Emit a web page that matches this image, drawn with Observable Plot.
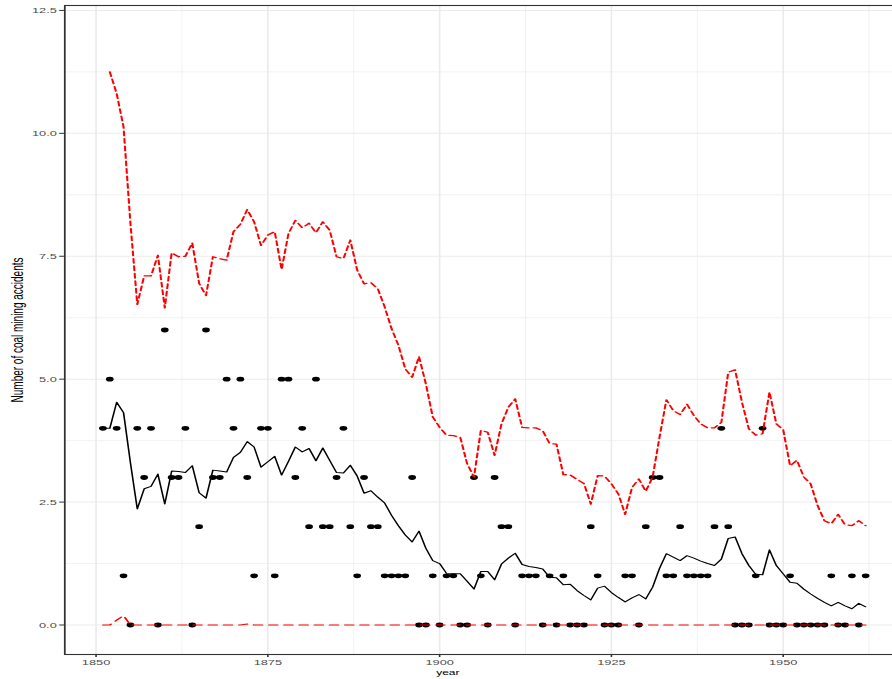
<!DOCTYPE html>
<html><head><meta charset="utf-8">
<script src="https://cdn.jsdelivr.net/npm/d3@7"></script>
<script src="https://cdn.jsdelivr.net/npm/@observablehq/plot@0.6"></script>
<style>
html,body{margin:0;padding:0;overflow:hidden;background:#fff;width:892px;height:679px}
#chart svg{transform-origin:0 0;}
</style></head><body><div id="chart"></div>
<script>
// years 1851..1962
const years = [1851,1852,1853,1854,1855,1856,1857,1858,1859,1860,1861,1862,1863,1864,1865,1866,1867,1868,1869,1870,
1871,1872,1873,1874,1875,1876,1877,1878,1879,1880,1881,1882,1883,1884,1885,1886,1887,1888,1889,1890,
1891,1892,1893,1894,1895,1896,1897,1898,1899,1900,1901,1902,1903,1904,1905,1906,1907,1908,1909,1910,
1911,1912,1913,1914,1915,1916,1917,1918,1919,1920,1921,1922,1923,1924,1925,1926,1927,1928,1929,1930,
1931,1932,1933,1934,1935,1936,1937,1938,1939,1940,1941,1942,1943,1944,1945,1946,1947,1948,1949,1950,
1951,1952,1953,1954,1955,1956,1957,1958,1959,1960,1961,1962];
const accidents = [4,5,4,1,0,4,3,4,0,6, 3,3,4,0,2,6,3,3,5,4, 5,3,1,4,4,1,5,5,3,4, 2,5,2,2,3,4,2,1,3,2,
2,1,1,1,1,3,0,0,1,0, 1,1,0,0,3,1,0,3,2,2, 0,1,1,1,0,1,0,1,0,0, 0,2,1,0,0,0,1,1,0,2,
3,3,1,1,2,1,1,1,1,2, 4,2,0,0,0,1,4,0,0,0, 1,0,0,0,0,0,1,0,0,1, 0,1];
const fitMean = [4.00,4.00,4.53,4.32,3.30,2.36,2.77,2.82,3.07,2.46, 3.13,3.12,3.10,3.24,2.69,2.58,3.15,3.13,3.11,3.41,
3.51,3.73,3.62,3.21,3.32,3.43,3.05,3.33,3.62,3.52, 3.59,3.34,3.60,3.35,3.10,3.09,3.25,3.03,2.68,2.73,
2.60,2.48,2.23,2.02,1.83,1.69,1.91,1.56,1.31,1.25, 1.05,1.04,1.04,0.89,0.73,1.09,1.09,0.92,1.24,1.36,
1.46,1.23,1.19,1.17,1.14,0.97,0.96,0.82,0.83,0.70, 0.60,0.51,0.75,0.79,0.66,0.56,0.47,0.55,0.62,0.53,
0.77,1.15,1.45,1.38,1.31,1.41,1.36,1.30,1.25,1.21, 1.34,1.76,1.79,1.45,1.21,1.03,1.02,1.53,1.21,1.04,
0.87,0.85,0.73,0.63,0.54,0.46,0.39,0.46,0.39,0.33, 0.44,0.37];
// upper band starts in 1852
const upperYears = years.slice(1);
const upper = [11.25,10.81,10.13,8.17,6.52,7.10,7.10,7.52,6.45, 7.57,7.49,7.50,7.77,6.95,6.70,7.49,7.45,7.42,8.00,
8.15,8.45,8.20,7.72,7.93,8.00,7.23,7.96,8.23,8.08, 8.17,7.98,8.20,8.03,7.49,7.45,7.83,7.22,6.94,6.96,
6.84,6.47,6.03,5.69,5.21,5.04,5.46,4.90,4.23,4.02, 3.86,3.85,3.82,3.28,3.01,3.96,3.92,3.45,4.09,4.43,
4.60,4.02,4.01,4.01,3.95,3.69,3.68,3.06,3.05,2.96, 2.88,2.46,3.04,3.03,2.87,2.67,2.25,2.80,2.97,2.72,
3.01,3.82,4.58,4.36,4.28,4.49,4.26,4.09,4.01,4.01, 4.12,5.14,5.19,4.53,3.99,3.86,3.89,4.74,4.09,3.97,
3.24,3.35,3.01,2.87,2.43,2.12,2.06,2.25,2.04,2.02, 2.12,2.02];
const lower = [0,0,0.10,0.19,0,0,0,0,0,0, 0,0,0,0,0,0,0,0,0,0, 0,0.02,0,0,0,0,0,0,0,0,
0,0,0,0,0,0,0,0,0,0, 0,0,0,0,0,0,0,0,0,0, 0,0,0,0,0,0,0,0,0,0, 0,0,0,0,0,0,0,0,0,0,
0,0,0,0,0,0,0,0,0,0, 0,0,0,0,0,0,0,0,0,0, 0,0,0,0,0,0,0,0,0,0, 0,0,0,0,0,0,0,0,0,0, 0,0];
const xTicks = [1850,1875,1900,1925,1950];
const xMinor = [1862.5,1887.5,1912.5,1937.5,1962.5];
const yTicks = [0,2.5,5,7.5,10,12.5];
const yMinor = [1.25,3.75,6.25,8.75,11.25];
const xTitle = "year";
const yTitle = "Number of coal mining accidents";

const F = 1.6; // horizontal stretch of the reference picture
const W = Math.ceil(904 / F);
const obs = years.map((y,i)=>({year:y, n:accidents[i]}));
const meanData = years.map((y,i)=>({year:y, v:fitMean[i]}));
const upData = upperYears.map((y,i)=>({year:y, v:upper[i]}));
const loData = years.map((y,i)=>({year:y, v:lower[i]}));

const chart = Plot.plot({
  width: W, height: 679,
  marginLeft: 64/F, marginRight: W - 903/F, marginTop: 5, marginBottom: 25,
  style: {fontFamily: "'Liberation Sans', Arial, sans-serif", fontSize: "8px", color: "#4d4d4d", background: "white", overflow: "visible"},
  x: {domain: [1845.45, 1967.55], label: null},
  y: {domain: [-0.6, 12.6], label: null},
  marks: [
    Plot.gridX(xMinor, {stroke: "#ebebeb", strokeOpacity: 1, strokeWidth: 0.5}),
    Plot.gridY(yMinor, {stroke: "#ebebeb", strokeOpacity: 1, strokeWidth: 0.5}),
    Plot.gridX(xTicks, {stroke: "#ebebeb", strokeOpacity: 1, strokeWidth: 1}),
    Plot.gridY(yTicks, {stroke: "#ebebeb", strokeOpacity: 1, strokeWidth: 1}),
    Plot.dot(obs, {x: "year", y: "n", r: 2.4, fill: "black", stroke: "none"}),
    Plot.line(meanData, {x: "year", y: "v", stroke: "black", strokeWidth: 1}),
    Plot.line(upData, {x: "year", y: "v", stroke: "red", strokeWidth: 1.3, strokeDasharray: "4.5,3"}),
    Plot.line(loData, {x: "year", y: "v", stroke: "red", strokeWidth: 1.2, strokeDasharray: "5.5,4"}),
    Plot.frame({stroke: "#333333", strokeWidth: 1.1}),
    Plot.axisX(xTicks, {tickSize: 3, tickPadding: 2, stroke: "#333333", fill: "#4d4d4d", tickFormat: d => String(d), label: null}),
    Plot.axisY(yTicks, {tickSize: 3, tickPadding: 2, stroke: "#333333", fill: "#4d4d4d", tickFormat: d3.format(".1f"), label: null}),
    Plot.text([xTitle], {frameAnchor: "bottom", lineAnchor: "middle", dy: 18, dx: (447 - 483.5)/F, fill: "black", fontSize: 7.5}),
    Plot.text([yTitle], {frameAnchor: "left", rotate: -90, lineAnchor: "middle", textAnchor: "middle", dx: 17/F - 64/F, fill: "black", fontSize: 10})
  ]
});
chart.style.transform = `scale(${F},1)`;
document.getElementById("chart").appendChild(chart);
</script></body></html>
